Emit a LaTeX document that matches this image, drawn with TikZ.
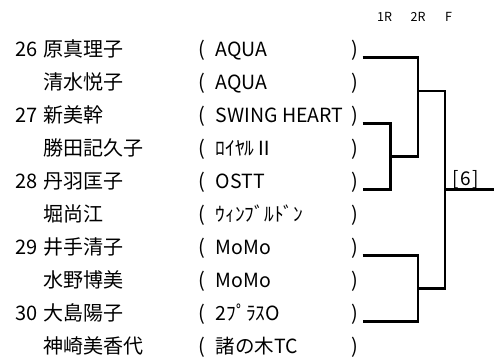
\documentclass[tikz,border=0pt]{standalone}
\usepackage{fontspec}
\setmainfont{Noto Sans CJK JP}
\begin{document}
\begin{tikzpicture}[x=1pt,y=-1pt,
  txt/.style={anchor=base west,inner sep=0pt,font=\fontsize{20}{24}\selectfont},
  tm/.style={anchor=base west,inner sep=0pt,font=\fontsize{19.5}{24}\selectfont},
  hdr/.style={anchor=base west,inner sep=0pt,font=\fontsize{12.5}{15}\selectfont},
  br/.style={line width=2.2pt,black}]
\useasboundingbox (0,0) rectangle (494,360);
% header
\node[hdr] (h1) at (377,21.7) {1R};
\node[hdr] (h2) at (410.5,21.7) {2R};
\node[hdr] (h3) at (445,21.7) {F};
% rows
\foreach \k/\num/\name/\team in {
  0/26/原真理子/AQUA,
  1//清水悦子/AQUA,
  2/27/新美幹/SWING HEART,
  3//勝田記久子/ﾛｲﾔﾙⅡ,
  4/28/丹羽匡子/OSTT,
  5//堀尚江/ｳｨﾝﾌﾞﾙﾄﾞﾝ,
  6/29/井手清子/MoMo,
  7//水野博美/MoMo,
  8/30/大島陽子/2ﾌﾟﾗｽO,
  9//神崎美香代/諸の木TC}{
  \pgfmathsetmacro{\yy}{56.5+33*\k}
  \node[txt] (num\k) at (15.5,\yy) {\num};
  \node[txt] (name\k) at (43.3,\yy) {\name};
  \node[txt] (lp\k) at (198,\yy) {(};
  \node[tm] (team\k) at (215.5,\yy) {\team};
  \node[txt] (rp\k) at (351.2,\yy) {)};
}
% bracket coordinates
\coordinate (p26) at (362.5,57.5);
\coordinate (p27) at (362.5,123.5);
\coordinate (p28) at (362.5,189.5);
\coordinate (p29) at (362.5,255.5);
\coordinate (p30) at (362.5,321.5);
\coordinate (m1) at (390.5,156.5);
\coordinate (m2) at (418,90.7);
\coordinate (m3) at (418,288.5);
\coordinate (f) at (445,189.5);
\coordinate (fend) at (494,189.5);
\draw[br] (p27) -| (m1) |- (p28);
\draw[br] (p26) -| (m2) |- (m1);
\draw[br] (p29) -| (m3) |- (p30);
\draw[br] (m2) -| (f) |- (m3);
\draw[br] (f) -- (fend);
\node[inner sep=0pt,font=\fontsize{19}{22}\selectfont] (res) at (465.5,179.5) {[\kern1.5pt6\kern1.5pt]};
\end{tikzpicture}
\end{document}
